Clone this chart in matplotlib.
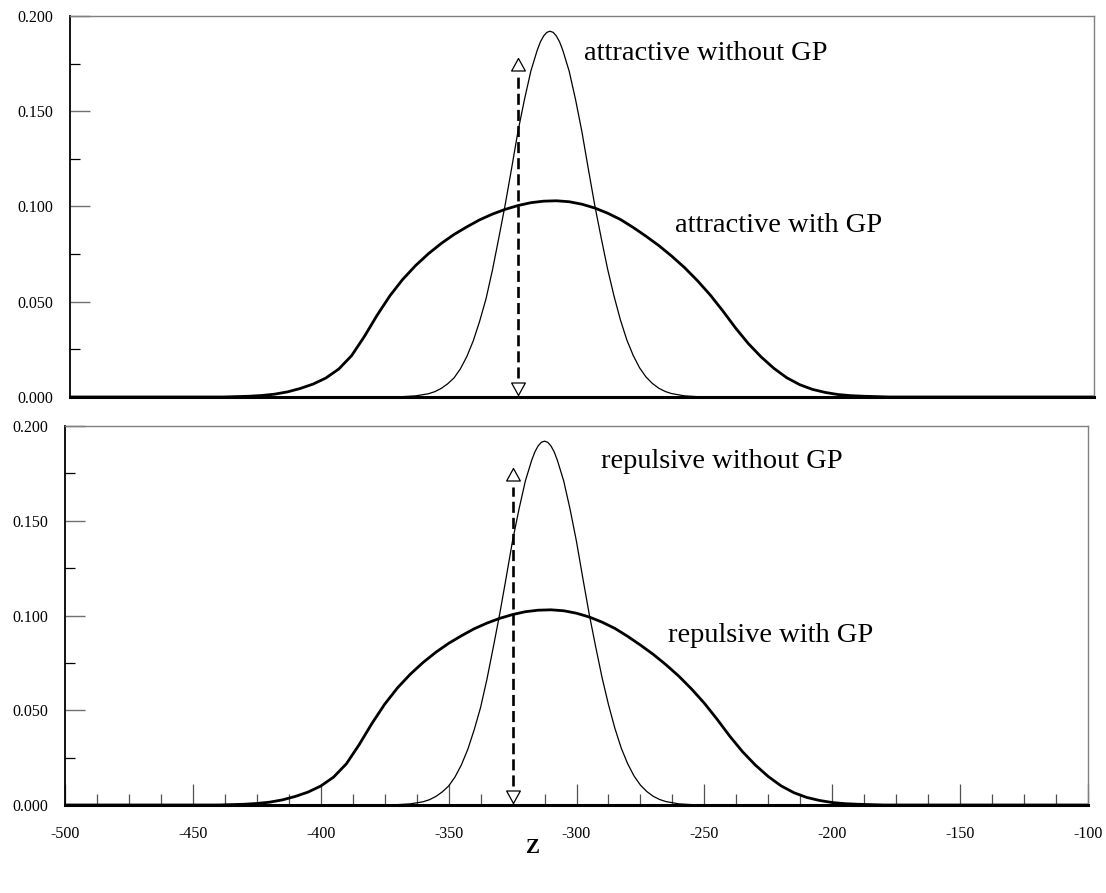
import matplotlib
matplotlib.use("Agg")
import matplotlib.pyplot as plt
from matplotlib.ticker import MultipleLocator, FormatStrFormatter

# ---------------- data ----------------
z_wide = [-500, -440, -435, -430, -425, -420, -415, -410, -405, -400, -395, -390,
          -385, -380, -375, -370, -365, -360, -355, -350, -345, -340, -335, -330,
          -325, -320, -315, -310, -305, -300, -295, -290, -285, -280, -275, -270,
          -265, -260, -255, -250, -245, -240, -235, -230, -225, -220, -215, -210,
          -205, -200, -195, -190, -185, -180, -100]
attractive_with_gp = [0.0, 0.0, 0.0002, 0.0004, 0.0008, 0.0015, 0.0027, 0.0045, 0.0068,
                      0.0100, 0.0147, 0.0217, 0.0318, 0.0430, 0.0532, 0.0618, 0.0690,
                      0.0752, 0.0806, 0.0853, 0.0893, 0.0930, 0.0960, 0.0985, 0.1005,
                      0.1020, 0.1028, 0.1030, 0.1025, 0.1012, 0.0992, 0.0965, 0.0932,
                      0.0890, 0.0844, 0.0795, 0.0740, 0.0680, 0.0612, 0.0537, 0.0452,
                      0.0362, 0.0280, 0.0210, 0.0150, 0.0101, 0.0065, 0.0040, 0.0024,
                      0.0013, 0.0007, 0.0004, 0.0002, 0.0, 0.0]
repulsive_with_gp = [0.0, 0.0, 0.0002, 0.0004, 0.0008, 0.0015, 0.0027, 0.0045, 0.0068,
                     0.0100, 0.0147, 0.0217, 0.0318, 0.0430, 0.0532, 0.0618, 0.0690,
                     0.0752, 0.0806, 0.0853, 0.0893, 0.0930, 0.0960, 0.0985, 0.1005,
                     0.1020, 0.1028, 0.1030, 0.1025, 0.1012, 0.0992, 0.0965, 0.0932,
                     0.0890, 0.0844, 0.0795, 0.0740, 0.0680, 0.0612, 0.0537, 0.0452,
                     0.0362, 0.0280, 0.0210, 0.0150, 0.0101, 0.0065, 0.0040, 0.0024,
                     0.0013, 0.0007, 0.0004, 0.0002, 0.0, 0.0]

z_narrow = [-500, -375, -370, -365, -360, -357.5, -355, -352.5, -350, -347.5, -345,
            -342.5, -340, -337.5, -335, -332.5, -330, -327.5, -325, -322.5, -320,
            -317.5, -316.25, -315, -313.75, -312.5, -311.25, -310, -308.75, -307.5,
            -305, -302.5, -300, -297.5, -295,
            -292.5, -290, -287.5, -285, -282.5, -280, -277.5, -275, -272.5, -270,
            -267.5, -265, -260, -255, -250, -100]
attractive_without_gp = [0.0, 0.0001, 0.0002, 0.0006, 0.0017, 0.0028, 0.0045, 0.0069,
                         0.0100, 0.0148, 0.0212, 0.0294, 0.0397, 0.0515, 0.0665, 0.0835,
                         0.1010, 0.1200, 0.1395, 0.1560, 0.1710, 0.1820, 0.1864, 0.1895,
                         0.1914, 0.1920, 0.1914, 0.1895, 0.1864,
                         0.1820, 0.1710, 0.1560, 0.1390, 0.1195, 0.1005, 0.0835,
                         0.0672, 0.0530, 0.0405, 0.0300, 0.0218, 0.0153, 0.0105, 0.0071,
                         0.0046, 0.0029, 0.0018, 0.0006, 0.0002, 0.0001, 0.0]
repulsive_without_gp = [0.0, 0.0001, 0.0002, 0.0006, 0.0017, 0.0028, 0.0045, 0.0069,
                        0.0100, 0.0148, 0.0212, 0.0294, 0.0397, 0.0515, 0.0665, 0.0835,
                        0.1010, 0.1200, 0.1395, 0.1560, 0.1710, 0.1820, 0.1864, 0.1895,
                        0.1914, 0.1920, 0.1914, 0.1895, 0.1864,
                        0.1820, 0.1710, 0.1560, 0.1390, 0.1195, 0.1005, 0.0835,
                        0.0672, 0.0530, 0.0405, 0.0300, 0.0218, 0.0153, 0.0105, 0.0071,
                        0.0046, 0.0029, 0.0018, 0.0006, 0.0002, 0.0001, 0.0]

arrow_z = -325
arrow_top = 0.178

x_limits = (-500, -100)
y_limits = (0.0, 0.2)

labels_top = ("attractive without GP", "attractive with GP")
labels_bottom = ("repulsive without GP", "repulsive with GP")

# ---------------- style ----------------
plt.rcParams['font.family'] = ['Liberation Serif', 'DejaVu Serif']
plt.rcParams['axes.unicode_minus'] = False
W, H = 1106, 893
fig = plt.figure(figsize=(W / 100, H / 100), dpi=100)


def px_axes(left, top, right, bottom):
    return fig.add_axes([left / W, 1 - bottom / H, (right - left) / W, (bottom - top) / H])


ax_top = px_axes(70, 16, 1094, 397)
ax_bot = px_axes(65, 426, 1088, 805)

tri_up = [(0, 0), (-0.55, -1), (0.55, -1), (0, 0)]
tri_down = [(0, 0), (-0.55, 1), (0.55, 1), (0, 0)]


def style_axes(ax, show_x):
    ax.set_xlim(*x_limits)
    ax.set_ylim(*y_limits)
    for s in ('top', 'right'):
        ax.spines[s].set_color('#808080')
        ax.spines[s].set_linewidth(1.0)
    ax.spines['left'].set_color('black')
    ax.spines['left'].set_linewidth(1.3)
    ax.spines['bottom'].set_color('black')
    ax.spines['bottom'].set_linewidth(2.2)
    ax.yaxis.set_major_locator(MultipleLocator(0.05))
    ax.yaxis.set_minor_locator(MultipleLocator(0.025))
    ax.yaxis.set_major_formatter(FormatStrFormatter('%.3f'))
    ax.tick_params(axis='y', which='major', direction='in', length=14.5, width=1.0,
                   color='#707070', labelsize=11.5, pad=12)
    ax.tick_params(axis='y', which='minor', direction='in', length=7.2, width=0.9,
                   color='black')
    if show_x:
        ax.xaxis.set_major_locator(MultipleLocator(50))
        ax.xaxis.set_minor_locator(MultipleLocator(12.5))
        ax.tick_params(axis='x', which='major', direction='in', length=15, width=0.9,
                       color='#505050', labelsize=11.5, pad=15)
        ax.tick_params(axis='x', which='minor', direction='in', length=8, width=0.9,
                       color='#505050')
    else:
        ax.tick_params(axis='x', which='both', bottom=False, labelbottom=False)


def draw_panel(ax, narrow, wide, labels, text_pos):
    ax.plot(z_narrow, narrow, color='black', lw=0.9, solid_joinstyle='round')
    ax.plot(z_wide, wide, color='black', lw=2.0, solid_joinstyle='round')
    ax.plot([arrow_z, arrow_z], [0.01, arrow_top - 0.01], color='black', lw=1.9,
            dashes=(4.2, 1.9))
    ax.plot([arrow_z], [arrow_top], marker=tri_up, markersize=18,
            markerfacecolor='white', markeredgecolor='black', markeredgewidth=0.9)
    ax.plot([arrow_z], [0.0008], marker=tri_down, markersize=18,
            markerfacecolor='white', markeredgecolor='black', markeredgewidth=0.9)
    for lab, (tx, ty) in zip(labels, text_pos):
        ax.text(tx, ty, lab, fontsize=20.5, ha='left', va='baseline', color='black')


style_axes(ax_top, False)
style_axes(ax_bot, True)
draw_panel(ax_top, attractive_without_gp, attractive_with_gp, labels_top,
           [(-299.2, 0.1769), (-263.7, 0.0868)])
draw_panel(ax_bot, repulsive_without_gp, repulsive_with_gp, labels_bottom,
           [(-290.4, 0.1778), (-264.2, 0.0862)])

fig.text(533 / W, 1 - 848 / H, "Z", fontsize=15, fontweight='bold',
         ha='center', va='center')

fig.savefig("out.png", dpi=100)
